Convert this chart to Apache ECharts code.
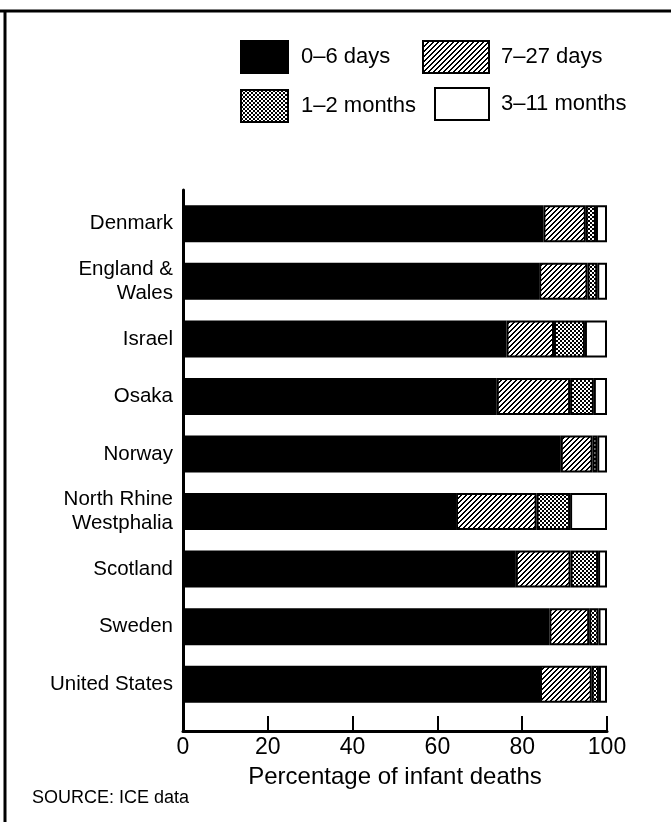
<!DOCTYPE html>
<html>
<head>
<meta charset="utf-8">
<script src="https://cdn.jsdelivr.net/npm/echarts@6/dist/echarts.min.js"></script>
<style>
html,body{margin:0;padding:0;background:#fff;}
#chart{width:671px;height:822px;}
</style>
</head>
<body>
<div id="chart"></div>
<script>
// ---- data ----
const categories = ['Denmark', 'England &\nWales', 'Israel', 'Osaka', 'Norway', 'North Rhine\nWestphalia', 'Scotland', 'Sweden', 'United States'];
const seriesNames = ['0–6 days', '7–27 days', '1–2 months', '3–11 months'];
const days0to6    = [85.0, 84.0, 76.3, 74.0, 89.1, 64.4, 78.5, 86.4, 84.2];
const days7to27   = [10.0, 11.4, 11.2, 17.3,  7.5, 19.0, 12.9,  9.4, 12.2];
const months1to2  = [ 2.4,  2.3,  7.3,  5.6,  1.1,  7.9,  6.5,  2.2,  1.7];
const months3to11 = [ 2.6,  2.3,  5.2,  3.1,  2.3,  8.7,  2.1,  2.0,  1.9];
const xTicks = [0, 20, 40, 60, 80, 100];
const sourceText = 'SOURCE: ICE data';
const axisTitle = 'Percentage of infant deaths';

// ---- patterns ----
function makePattern(size, isBlack) {
  const c = document.createElement('canvas');
  c.width = size; c.height = size;
  const ctx = c.getContext('2d');
  const img = ctx.createImageData(size, size);
  for (let y = 0; y < size; y++) {
    for (let x = 0; x < size; x++) {
      const v = isBlack(x, y) ? 0 : 255;
      const i = (y * size + x) * 4;
      img.data[i] = v; img.data[i + 1] = v; img.data[i + 2] = v; img.data[i + 3] = 255;
    }
  }
  ctx.putImageData(img, 0, 0);
  return { image: c, repeat: 'repeat' };
}
const hatch = makePattern(5, (x, y) => ((x + y) % 5) < 2);
const dots = makePattern(4, (x, y) => (((x >> 1) + (y >> 1)) % 2) === 0);

const FONT = 'Liberation Sans, Arial, Helvetica, sans-serif';
const chart = echarts.init(document.getElementById('chart'), null, { renderer: 'canvas' });

const fills = ['#000000', hatch, dots, '#ffffff'];
const values = [days0to6, days7to27, months1to2, months3to11];

const series = seriesNames.map((name, i) => ({
  name: name,
  type: 'bar',
  stack: 'total',
  xAxisIndex: 0,
  yAxisIndex: 0,
  barWidth: 37,
  data: values[i],
  itemStyle: { color: fills[i], borderColor: '#000', borderWidth: 2 },
  emphasis: { disabled: true },
  silent: true
}));

const legendCommon = {
  orient: 'vertical',
  padding: 0,
  itemHeight: 32,
  itemGap: 15,
  icon: 'rect',
  selectedMode: false,
  textStyle: { fontFamily: FONT, fontSize: 22, color: '#000', padding: [0, 0, 0, 8] }
};

chart.setOption({
  backgroundColor: '#fff',
  animation: false,
  title: {
    text: sourceText,
    left: 27,
    top: 784,
    textStyle: { fontFamily: FONT, fontSize: 18, fontWeight: 'normal', color: '#000' }
  },
  legend: [
    Object.assign({}, legendCommon, { left: 240, top: 40, itemWidth: 47, data: [seriesNames[0], seriesNames[2]] }),
    Object.assign({}, legendCommon, { left: 422, top: 40, itemWidth: 66, data: [seriesNames[1]],
      textStyle: Object.assign({}, legendCommon.textStyle, { padding: [0, 0, 0, 7] }) }),
    Object.assign({}, legendCommon, { left: 434, top: 87, itemWidth: 54, data: [seriesNames[3]],
      textStyle: Object.assign({}, legendCommon.textStyle, { padding: [0, 0, 0, 7] }) })
  ],
  grid: [
    { left: 183, right: 64, top: 195, height: 518 },
    { left: 183, right: 64, top: 190, height: 541 }
  ],
  xAxis: [
    { type: 'value', gridIndex: 0, min: 0, max: 100, show: false },
    {
      type: 'value', gridIndex: 1, min: 0, max: 100, interval: 20,
      axisLine: { show: true, lineStyle: { color: '#000', width: 3 } },
      axisTick: { show: true, inside: true, length: 15, lineStyle: { color: '#000', width: 2 } },
      axisLabel: { margin: 5, color: '#000', fontFamily: FONT, fontSize: 23,
        formatter: v => (xTicks.indexOf(v) >= 0 ? String(v) : '') },
      splitLine: { show: false },
      name: axisTitle,
      nameLocation: 'middle',
      nameGap: 34,
      nameTextStyle: { fontFamily: FONT, fontSize: 24, color: '#000' }
    }
  ],
  yAxis: [
    {
      type: 'category', gridIndex: 0, data: categories, inverse: true,
      axisLine: { show: false },
      axisTick: { show: false },
      axisLabel: { margin: 10, color: '#000', fontFamily: FONT, fontSize: 20.5, lineHeight: 24, align: 'right' }
    },
    {
      type: 'value', gridIndex: 1, min: 0, max: 1,
      axisLine: { show: true, lineStyle: { color: '#000', width: 3 } },
      axisTick: { show: false },
      axisLabel: { show: false },
      splitLine: { show: false }
    }
  ],
  graphic: [
    { type: 'line', shape: { x1: 0, y1: 11, x2: 671, y2: 11 }, style: { stroke: '#000', lineWidth: 3 }, silent: true },
    { type: 'line', shape: { x1: 5, y1: 10, x2: 5, y2: 822 }, style: { stroke: '#000', lineWidth: 3 }, silent: true }
  ],
  series: series
});
</script>
</body>
</html>
